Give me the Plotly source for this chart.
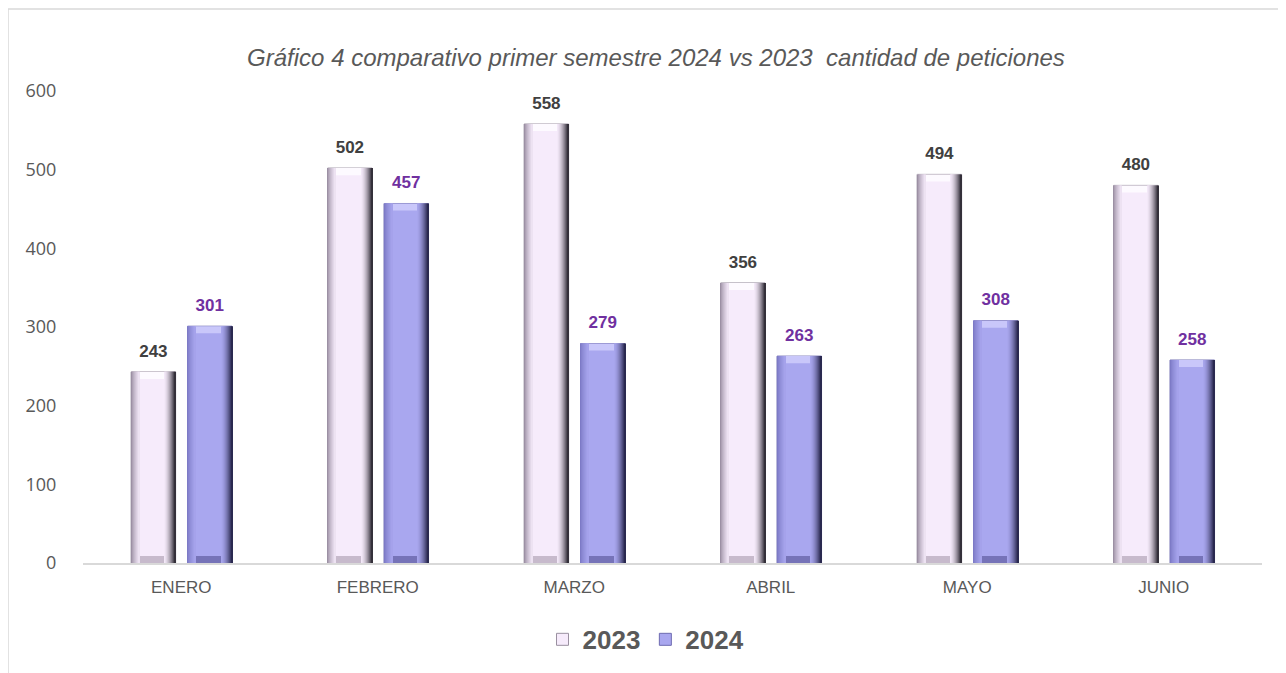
import plotly.graph_objects as go

# data
months = ["ENERO", "FEBRERO", "MARZO", "ABRIL", "MAYO", "JUNIO"]
values_2023 = [243, 502, 558, 356, 494, 480]
values_2024 = [301, 457, 279, 263, 308, 258]
y_ticks = [0, 100, 200, 300, 400, 500, 600]

title_text = "Gráfico 4 comparativo primer semestre 2024 vs 2023  cantidad de peticiones"

# geometry (category units, 1 category ~ 196.5 px)
PX = 1 / 196.5
BAR_W = 44.5 * PX
OFF_2023 = -0.255
OFF_2024 = 0.032
BEVEL = 9  # in data units (~7 px)

# page is drawn with an 8px body margin, so layout is shifted back by that
PAGE = 8
PLOT_L, PLOT_R, PLOT_T, PLOT_B = 83, 1262, 91, 563.5
PW, PH = PLOT_R - PLOT_L, PLOT_B - PLOT_T


def hex_to_rgb(c):
    c = c.lstrip("#")
    return tuple(int(c[i:i + 2], 16) for i in (0, 2, 4))


def mix(c1, c2, t):
    a, b = hex_to_rgb(c1), hex_to_rgb(c2)
    return "rgb(%d,%d,%d)" % tuple(round(a[i] + (b[i] - a[i]) * t) for i in range(3))


def add_bevel_bars(fig, x, vals, off, name, main, left, right, top, bottom, outline, label_color):
    # main body (this one carries the legend entry)
    fig.add_trace(go.Bar(
        x=x, y=vals, offset=off, width=BAR_W, name=name,
        marker=dict(color=main, line=dict(color=outline, width=1)),
        hoverinfo="y",
    ))
    # top and bottom bevels
    fig.add_trace(go.Bar(
        x=x, y=[BEVEL] * len(vals), base=[v - BEVEL for v in vals],
        offset=off, width=BAR_W, marker=dict(color=top, line=dict(width=0)),
        showlegend=False, hoverinfo="skip",
    ))
    fig.add_trace(go.Bar(
        x=x, y=[BEVEL] * len(vals), base=[0] * len(vals),
        offset=off, width=BAR_W, marker=dict(color=bottom, line=dict(width=0)),
        showlegend=False, hoverinfo="skip",
    ))
    # left highlight gradient, 1px strips
    n_left = 8
    for i in range(n_left):
        fig.add_trace(go.Bar(
            x=x, y=vals, offset=off + i * PX, width=1.05 * PX,
            marker=dict(color=mix(left, main, (i / n_left) ** 0.8), line=dict(width=0)),
            showlegend=False, hoverinfo="skip",
        ))
    # right shadow gradient, 1px strips
    n_right = 11
    for i in range(n_right):
        t = ((i + 1) / n_right) ** 1.7
        fig.add_trace(go.Bar(
            x=x, y=vals, offset=off + BAR_W - (n_right - i) * PX, width=1.05 * PX,
            marker=dict(color=mix(main, right, t), line=dict(width=0)),
            showlegend=False, hoverinfo="skip",
        ))
    # value labels
    fig.add_trace(go.Scatter(
        x=[xi + off + BAR_W / 2 for xi in x], y=vals, mode="markers+text",
        text=[str(v) for v in vals], textposition="top center",
        marker=dict(size=16, opacity=0),
        textfont=dict(family="Liberation Sans Narrow, Arial Narrow, Liberation Sans, Arial",
                      size=17, color=label_color, weight="bold"),
        showlegend=False, hoverinfo="skip", cliponaxis=False,
    ))


xpos = list(range(len(months)))

fig = go.Figure()
add_bevel_bars(fig, xpos, values_2023, OFF_2023, "2023",
               main="#F6EBFB", left="#9C90A4", right="#34303A",
               top="#FDFAFF", bottom="#C7BACC", outline="#9A90A0",
               label_color="#404040")
add_bevel_bars(fig, xpos, values_2024, OFF_2024, "2024",
               main="#A9A7EF", left="#7D7AC6", right="#2A2950",
               top="#C9C7FA", bottom="#7673B8", outline="#6E6BB0",
               label_color="#7030A0")

# chart frame (left and top edges visible in the reference)
fx = (8 - PLOT_L) / PW
fy = (PLOT_B - 9) / PH
fig.add_shape(type="line", xref="paper", yref="paper", x0=fx, x1=fx, y0=-1, y1=fy,
              line=dict(color="#D9D9D9", width=1.5))
fig.add_shape(type="line", xref="paper", yref="paper", x0=fx, x1=1.2, y0=fy, y1=fy,
              line=dict(color="#D9D9D9", width=1.5))

fig.update_layout(
    width=1286, height=673,
    margin=dict(l=PLOT_L - PAGE, r=1286 - PLOT_R + PAGE, t=PLOT_T - PAGE,
                b=673 - PLOT_B + PAGE),
    paper_bgcolor="white", plot_bgcolor="white",
    barmode="overlay",
    title=dict(
        text=title_text, xref="paper", x=(656 - PLOT_L) / PW, xanchor="center",
        yref="container", y=1 - (58 - PAGE) / 673, yanchor="middle",
        font=dict(family="Liberation Sans, Arial", size=24, color="#595959", style="italic"),
    ),
    legend=dict(
        orientation="h", xanchor="center", x=(646 - PLOT_L) / PW,
        yanchor="middle", y=(PLOT_B - 640) / PH,
        font=dict(family="Liberation Sans, Arial", size=26, color="#595959", weight="bold"),
        itemwidth=30, traceorder="normal",
    ),
    showlegend=True,
)

fig.update_xaxes(
    range=[-0.5, len(months) - 0.5], tickvals=xpos, ticktext=months,
    showgrid=False, zeroline=False, showline=True, linecolor="#D9D9D9", linewidth=1.5,
    ticks="outside", ticklen=8, tickcolor="rgba(0,0,0,0)",
    tickfont=dict(family="Liberation Sans, Arial", size=17, color="#595959"),
)
fig.update_yaxes(
    range=[0, 600], tickvals=y_ticks, showgrid=False, zeroline=False, showline=False,
    ticks="outside", ticklen=22, tickcolor="rgba(0,0,0,0)",
    tickfont=dict(family="Open Sans, Liberation Sans", size=18, color="#595959"),
)

fig.write_html("out.html")
